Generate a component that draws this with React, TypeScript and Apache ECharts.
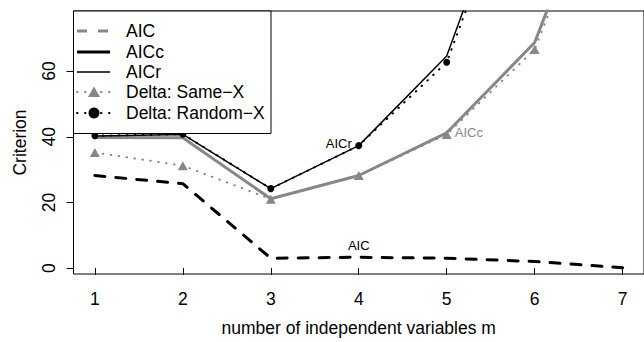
import React, { useEffect, useRef } from "react";
import * as echarts from "echarts";

const mValues = [1, 2, 3, 4, 5, 6, 7];
const aicValues = [28.2, 25.7, 3.0, 3.3, 3.0, 2.0, 0.1];
const aiccValues = [39.8, 39.7, 21.1, 28.2, 41.2, 68.7, 138];
const aicrValues = [40.2, 40.7, 24.2, 37.3, 64.6, 138];
const deltaSameValues = [35.2, 31.2, 21.0, 28.2, 40.7, 66.6, 135];
const deltaRandomValues = [40.3, 40.8, 24.2, 37.3, 62.7, 135];
const yTickValues = [0, 20, 40, 60];
const xTickValues = [1, 2, 3, 4, 5, 6, 7];
const legendNames = ["AIC", "AICc", "AICr", "Delta: Same\u2212X", "Delta: Random\u2212X"];

const FONT = '"Liberation Sans", Arial, Helvetica, sans-serif';
const GRAY = "#878787";

function pairs(vals: number[], labelIdx?: number, label?: any) {
  return vals.map((v, i) => {
    if (i === labelIdx) {
      return {
        value: [mValues[i], v],
        symbol: "circle",
        symbolSize: 2,
        itemStyle: { color: "rgba(0,0,0,0)", borderWidth: 0 },
        label: { show: true, ...label },
      };
    }
    return [mValues[i], v];
  });
}

export default function App() {
  const ref = useRef<HTMLDivElement>(null);
  useEffect(() => {
    if (!ref.current) return;
    const chart = echarts.init(ref.current, null, { renderer: "svg" });
    const legendX0 = 77;
    const legendX1 = 110;
    const legendRows = [31, 52, 72, 92, 113];
    const legendEls: any[] = [
      {
        type: "rect",
        shape: { x: 73.5, y: 11, width: 197.5, height: 122.5 },
        style: { fill: "#fff", stroke: "#000", lineWidth: 1 },
        z: 100,
      },
    ];
    const sampleStyles = [
      { stroke: GRAY, lineWidth: 3, lineDash: [10, 11] },
      { stroke: "#000", lineWidth: 3 },
      { stroke: "#000", lineWidth: 1.5 },
      { stroke: GRAY, lineWidth: 2, lineDash: [0.5, 7.5], lineCap: "round" },
      { stroke: "#000", lineWidth: 2, lineDash: [0.5, 7.5], lineCap: "round" },
    ];
    legendNames.forEach((name, i) => {
      const y = legendRows[i];
      legendEls.push({
        type: "line",
        shape: { x1: legendX0, y1: y, x2: legendX1, y2: y },
        style: { fill: null, ...sampleStyles[i] },
        z: 101,
      });
      legendEls.push({
        type: "text",
        x: 126,
        y: y,
        style: { text: name, fill: "#000", font: `17.5px ${FONT}`, verticalAlign: "middle", textAlign: "left" },
        z: 101,
      });
    });
    legendEls.push({
      type: "polygon",
      shape: { points: [[94, 86.5], [88, 97], [100, 97]] },
      style: { fill: GRAY },
      z: 102,
    });
    legendEls.push({
      type: "circle",
      shape: { cx: 94, cy: 113, r: 5.5 },
      style: { fill: "#000" },
      z: 102,
    });

    chart.setOption({
      animation: false,
      textStyle: { fontFamily: FONT },
      grid: {
        left: 73.5,
        top: 11,
        width: 576,
        height: 267.3,
        show: true,
        borderColor: "#000",
        borderWidth: 1,
        backgroundColor: "transparent",
      },
      xAxis: {
        type: "value",
        min: 0.757,
        max: 7.243,
        name: "number of independent variables m",
        nameLocation: "middle",
        nameGap: 45,
        nameTextStyle: { fontSize: 17.5, color: "#000", fontFamily: FONT },
        axisLine: { show: false },
        splitLine: { show: false },
        axisTick: { show: true, length: 7, customValues: xTickValues, lineStyle: { color: "#000" } },
        axisLabel: { customValues: xTickValues, fontSize: 17.5, color: "#000", margin: 16, fontFamily: FONT },
      },
      yAxis: {
        type: "value",
        min: -1.8,
        max: 78.3,
        name: "Criterion",
        nameLocation: "middle",
        nameGap: 45,
        nameRotate: 90,
        nameTextStyle: { fontSize: 17.5, color: "#000", fontFamily: FONT },
        axisLine: { show: false },
        splitLine: { show: false },
        axisTick: { show: true, length: 7, customValues: yTickValues, lineStyle: { color: "#000" } },
        axisLabel: { customValues: yTickValues, fontSize: 17.5, color: "#000", margin: 16, rotate: 90, fontFamily: FONT },
      },
      series: [
        {
          name: legendNames[0],
          type: "line",
          symbol: "none",
          clip: true,
          data: pairs(aicValues, 3, {
            position: "top",
            distance: 4,
            formatter: "AIC",
            fontSize: 13,
            color: "#000",
            fontFamily: FONT,
          }),
          lineStyle: { color: "#000", width: 3, type: [10, 11], cap: "round" },
          z: 2,
        },
        {
          name: legendNames[1],
          type: "line",
          symbol: "none",
          clip: true,
          data: pairs(aiccValues, 4, {
            position: "right",
            distance: 7,
            formatter: "AICc",
            fontSize: 13,
            color: GRAY,
            fontFamily: FONT,
          }),
          lineStyle: { color: GRAY, width: 3 },
          z: 3,
        },
        {
          name: legendNames[2],
          type: "line",
          symbol: "none",
          clip: true,
          data: pairs(aicrValues, 3, {
            position: "left",
            distance: 6,
            formatter: "AICr",
            fontSize: 13,
            color: "#000",
            fontFamily: FONT,
            offset: [0, -2],
          }),
          lineStyle: { color: "#000", width: 1.5 },
          z: 4,
        },
        {
          name: legendNames[3],
          type: "line",
          symbol: "triangle",
          symbolSize: [10, 9],
          showAllSymbol: true,
          clip: true,
          data: pairs(deltaSameValues),
          itemStyle: { color: GRAY },
          lineStyle: { color: GRAY, width: 2, type: [0.5, 7.5], cap: "round" },
          z: 5,
        },
        {
          name: legendNames[4],
          type: "line",
          symbol: "circle",
          symbolSize: 7,
          showAllSymbol: true,
          clip: true,
          data: pairs(deltaRandomValues),
          itemStyle: { color: "#000" },
          lineStyle: { color: "#000", width: 2, type: [0.5, 7.5], cap: "round" },
          z: 6,
        },
      ],
      graphic: legendEls,
    });
    return () => chart.dispose();
  }, []);
  return (
    <div
      ref={ref}
      style={{ position: "fixed", left: 0, top: 0, width: 644, height: 342, background: "#fff" }}
    />
  );
}
